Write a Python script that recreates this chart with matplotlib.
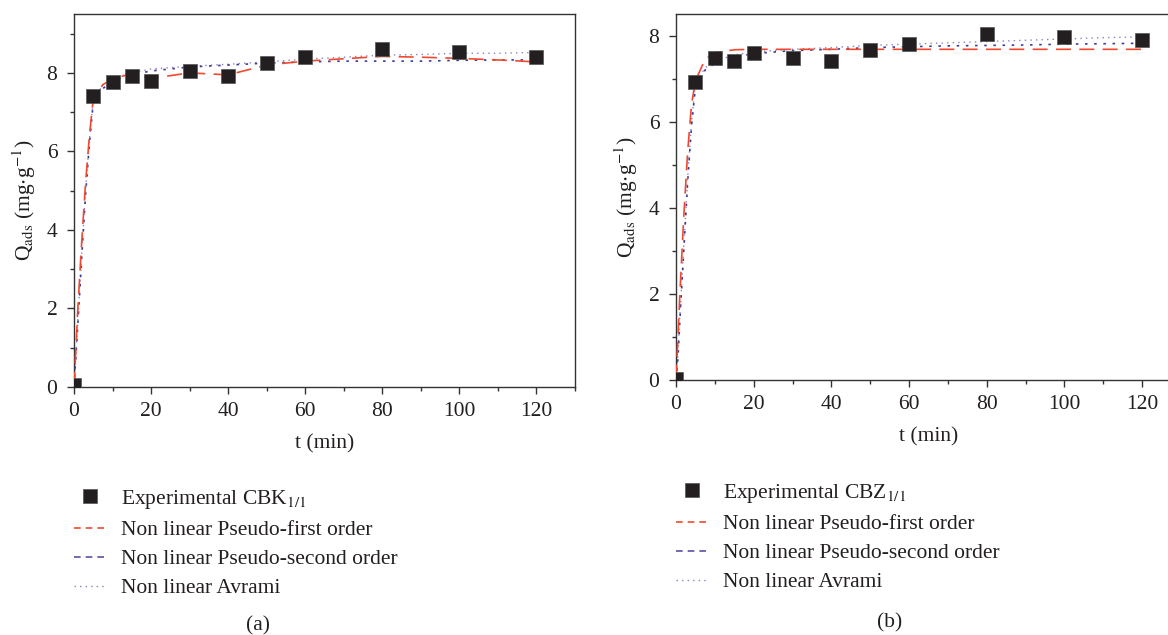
import numpy as np
import matplotlib
matplotlib.use("Agg")
import matplotlib.pyplot as plt
from matplotlib.ticker import MultipleLocator

plt.rcParams['font.family'] = ['Liberation Serif', 'DejaVu Serif']
plt.rcParams['mathtext.fontset'] = 'stix'
plt.rcParams['text.color'] = '#231f20'
plt.rcParams['axes.labelcolor'] = '#231f20'

# experimental points (min, mg/g)
t_exp = [0, 5, 10, 15, 20, 30, 40, 50, 60, 80, 100, 120]
q_cbk = [0.05, 7.40, 7.76, 7.93, 7.80, 8.04, 7.93, 8.25, 8.40, 8.61, 8.54, 8.40]
q_cbz = [0.03, 6.93, 7.47, 7.42, 7.59, 7.47, 7.41, 7.67, 7.81, 8.04, 7.97, 7.90]

# fitted curves
t_fit = [0, 0.5, 1, 2, 3, 4, 5, 7.5, 10, 15, 20, 30, 40, 50, 60, 70, 80, 90, 100, 110, 120]
pfo_cbk = [0, 1.0, 2.0, 3.7, 5.2, 6.4, 7.35, 7.7, 7.85, 7.98, 7.86, 8.0, 7.95, 8.2, 8.3, 8.36, 8.42, 8.4, 8.37, 8.33, 8.28]
pso_cbk = [0, 0.8, 1.6, 3.3, 4.9, 6.2, 7.25, 7.6, 7.8, 7.95, 8.05, 8.15, 8.2, 8.25, 8.28, 8.3, 8.3, 8.3, 8.32, 8.33, 8.33]
avr_cbk = [0, 0.8, 1.7, 3.4, 5.0, 6.3, 7.3, 7.7, 7.85, 8.0, 8.1, 8.17, 8.22, 8.28, 8.35, 8.4, 8.45, 8.47, 8.5, 8.5, 8.52]
pfo_cbz = [0, 1.0, 2.0, 3.8, 5.3, 6.4, 6.95, 7.45, 7.6, 7.67, 7.68, 7.68, 7.68, 7.68, 7.68, 7.68, 7.68, 7.68, 7.68, 7.68, 7.68]
pso_cbz = [0, 0.5, 1.4, 3.0, 4.6, 5.9, 6.8, 7.2, 7.35, 7.5, 7.58, 7.65, 7.68, 7.72, 7.74, 7.76, 7.77, 7.78, 7.8, 7.81, 7.82]
avr_cbz = [0, 0.6, 1.5, 3.1, 4.7, 6.0, 6.9, 7.25, 7.4, 7.55, 7.62, 7.68, 7.72, 7.77, 7.8, 7.83, 7.86, 7.89, 7.92, 7.95, 7.97]

c_red = '#ef4a2f'
c_blue = '#3b3a9c'
c_avr = '#8c80c8'
ink = '#231f20'

fig = plt.figure(figsize=(11.68, 6.35), dpi=100)
W, H = 1168, 635


def panel(rect, q, pfo, pso, avr, ymax, name, leg_xy, cap_xy, cap):
    ax = fig.add_axes(rect)
    ax.plot(t_fit, avr, linestyle=(0, (1, 3)), color=c_avr, lw=1, label='Non linear Avrami', zorder=2)
    ax.plot(t_fit, pso, linestyle=(0, (1.5, 4, 1.5, 4)), color=c_blue, lw=1.2, label='Non linear Pseudo-second order', zorder=3)
    ax.plot(t_fit, pfo, linestyle=(0, (9, 5)), color=c_red, lw=1.2, label='Non linear Pseudo-first order', zorder=4)
    ax.plot(t_exp, q, 's', color=ink, ms=10, mec='#555555', mew=0.5, linestyle='none',
            label='Experimental ' + name, zorder=5)
    ax.set_xlim(0, 130)
    ax.set_ylim(0, ymax)
    ax.xaxis.set_major_locator(MultipleLocator(20))
    ax.xaxis.set_minor_locator(MultipleLocator(10))
    ax.yaxis.set_major_locator(MultipleLocator(2))
    ax.yaxis.set_minor_locator(MultipleLocator(1))
    ax.tick_params(which='both', direction='out', colors='#333333', labelcolor=ink, labelsize=15.5, width=1)
    ax.tick_params(which='major', length=5)
    ax.tick_params(which='minor', length=3)
    ax.tick_params(axis='x', pad=6)
    ax.tick_params(axis='y', pad=7)
    for s in ax.spines.values():
        s.set_color('#333333')
        s.set_linewidth(1)
    ax.set_xlabel('t (min)', fontsize=15.5, labelpad=9)
    ax.set_ylabel(r'Q$_{\mathrm{ads}}$ (mg$\cdot$g$^{-1}$)', fontsize=15.5, labelpad=6)

    h, l = ax.get_legend_handles_labels()
    order = [3, 2, 1, 0]
    leg = ax.legend([h[i] for i in order], [l[i] for i in order], loc='upper left',
                    bbox_to_anchor=(leg_xy[0] / W, 1 - leg_xy[1] / H), bbox_transform=fig.transFigure,
                    frameon=False, fontsize=15.5, handlelength=1.5, handletextpad=0.7,
                    labelspacing=0.42, borderaxespad=0, borderpad=0)
    # legend lines drawn as plain dashes
    lh = leg.legend_handles
    lh[1].set_linestyle((0, (4, 3)))
    lh[2].set_linestyle((0, (4, 3)))
    lh[2].set_color('#5a50a8')
    lh[3].set_linestyle((0, (1, 3)))
    fig.text(cap_xy[0] / W, 1 - cap_xy[1] / H, cap, ha='center', va='center', fontsize=15.5, color=ink)
    return ax


panel([74 / W, 1 - 387 / H, 501 / W, 373 / H], q_cbk, pfo_cbk, pso_cbk, avr_cbk, 9.5,
      r'CBK$_{\mathrm{1/1}}$', (74, 488), (258, 626), '(a)')
panel([676 / W, 1 - 380 / H, 505 / W, 366 / H], q_cbz, pfo_cbz, pso_cbz, avr_cbz, 8.5,
      r'CBZ$_{\mathrm{1/1}}$', (676, 482), (890, 623), '(b)')

fig.savefig('out.png', dpi=100)
